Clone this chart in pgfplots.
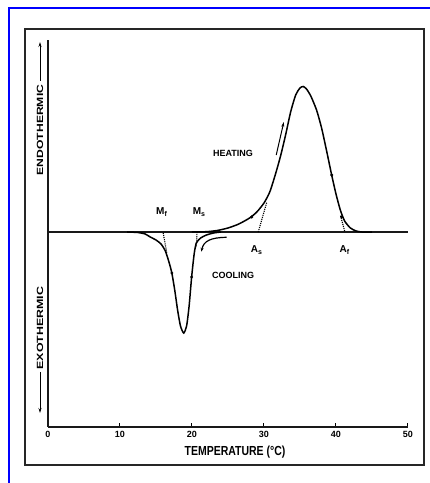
\documentclass[border=0pt]{standalone}
\usepackage{fontspec}
\setmainfont{Liberation Sans}
\usepackage{pgfplots}
\pgfplotsset{compat=1.18}
\usetikzlibrary{arrows.meta}

% DSC trace of a shape-memory alloy: cooling (exothermic) and heating (endothermic) peaks
\pgfplotstableread{
x y
20.0 0
22.0 0.3
23.5 1.5
25.0 4
26.5 8
28.0 14
29.0 20
30.0 29
30.8 40
31.6 58
32.3 76
33.0 97
33.7 120
34.4 137
35.0 144
35.45 145.5
35.9 143
36.5 136
37.3 122
38.0 104
38.7 81
39.4 57
40.0 38
40.6 22
41.2 11
42.0 4
42.8 1
43.6 0
45.0 0
}\heating

\pgfplotstableread{
x y
11.0 0
12.5 -0.5
13.5 -2
14.2 -5
15.0 -8
15.7 -12
16.3 -19
16.8 -30
17.2 -41
17.6 -58
18.0 -78
18.4 -94
18.85 -101
19.25 -94
19.6 -74
19.95 -45
20.3 -22
20.6 -11
21.2 -6
22.0 -3
23.0 -1
24.0 0
}\cooling

\begin{document}
\begin{tikzpicture}
\path[use as bounding box] (0pt,0pt) rectangle (430pt,483pt);
% outer frames
\draw[blue, line width=1.6pt] (9pt,0pt) -- (9pt,475pt) -- (430pt,475pt);
\draw[black!85, line width=1.3pt] (25pt,18pt) rectangle (424pt,454pt);

\begin{axis}[
  at={(48pt,56pt)}, anchor=south west,
  scale only axis, width=360pt, height=387pt,
  xmin=0, xmax=50, ymin=-195, ymax=192,
  axis x line=bottom, axis y line=left,
  axis line style={-, line width=1.2pt, black!90},
  ytick=\empty,
  xtick={0,10,20,30,40,50},
  major tick length=4pt, tick align=inside,
  tick style={line width=1pt, black},
  xticklabel style={font=\bfseries\fontsize{9}{9}\selectfont, yshift=-0.5pt},
  /pgf/number format/assume math mode=true,
  clip=false,
]
% baseline
\addplot[line width=1.4pt, black!90] coordinates {(0,0) (50,0)};
% heating and cooling peaks
\addplot[line width=1.5pt, black, smooth, tension=0.4] table {\heating};
\addplot[line width=1.5pt, black, smooth, tension=0.4] table {\cooling};
% onset / finish construction lines
\addplot[densely dotted, line width=1.1pt] coordinates {(16.0,-1) (16.5,-21)};
\addplot[densely dotted, line width=1.1pt] coordinates {(20.7,0) (20.6,-15)};
\addplot[densely dotted, line width=1.1pt] coordinates {(29.2,0) (30.4,30)};
\addplot[densely dotted, line width=1.1pt] coordinates {(41.2,1) (40.6,17)};
% direction marks on the trace
\addplot[only marks, mark=*, mark size=1.3pt] coordinates {(17.2,-41) (19.95,-45) (28.3,15) (39.4,57) (40.8,15)};
% direction arrows
\draw[line width=1pt, -{Stealth[length=5pt,width=3pt]}] (axis cs:31.7,77) -- (axis cs:32.75,110);
\draw[line width=1.2pt, -{Stealth[length=4pt,width=3pt]}] (axis cs:24.8,-5.3) .. controls (axis cs:22.6,-5.5) and (axis cs:21.6,-9) .. (axis cs:21.3,-19.7);
% labels
\node[font=\bfseries\fontsize{9}{9}\selectfont] at (axis cs:25.7,79) {HEATING};
\node[font=\bfseries\fontsize{9}{9}\selectfont] at (axis cs:25.7,-43) {COOLING};
\node[font=\bfseries\fontsize{10}{10}\selectfont] at (axis cs:15.8,20) {M\textsubscript{f}};
\node[font=\bfseries\fontsize{10}{10}\selectfont] at (axis cs:21.0,20) {M\textsubscript{s}};
\node[font=\bfseries\fontsize{10}{10}\selectfont] at (axis cs:29.0,-18) {A\textsubscript{s}};
\node[font=\bfseries\fontsize{10}{10}\selectfont] at (axis cs:41.2,-18) {A\textsubscript{f}};
\end{axis}

% side and bottom titles
\node[rotate=90, font=\bfseries\fontsize{9}{9}\selectfont] at (40pt,353pt) {\scalebox{1.35}[1]{ENDOTHERMIC}};
\draw[line width=0.8pt, -{Stealth[length=5pt,width=3pt]}] (40pt,402pt) -- (40pt,441pt);
\node[rotate=90, font=\bfseries\fontsize{9}{9}\selectfont] at (40pt,155pt) {\scalebox{1.38}[1]{EXOTHERMIC}};
\draw[line width=0.8pt, -{Stealth[length=5pt,width=3pt]}] (40pt,111pt) -- (40pt,70pt);
\node[font=\bfseries\fontsize{10.5}{10.5}\selectfont] at (235pt,31pt) {\scalebox{1}[1.25]{TEMPERATURE (°C)}};
\end{tikzpicture}
\end{document}
